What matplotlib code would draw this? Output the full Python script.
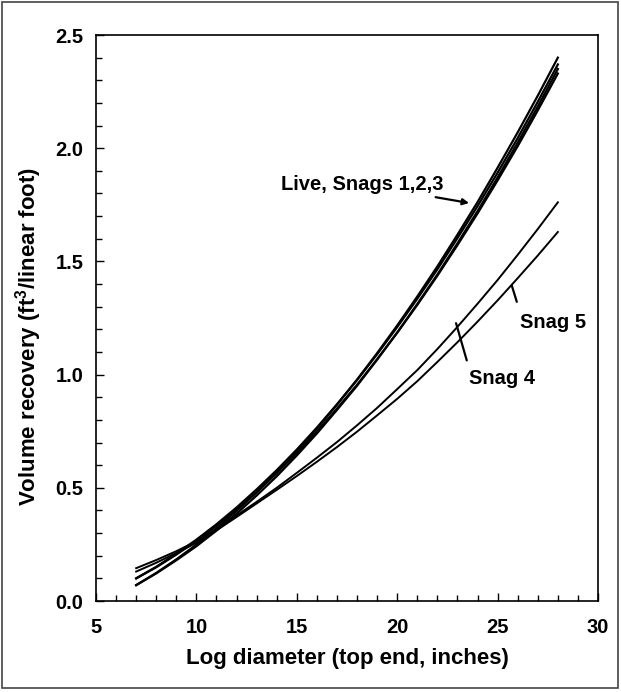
import matplotlib
matplotlib.use("Agg")
from matplotlib import pyplot as plt
from matplotlib.patches import Rectangle
from matplotlib.ticker import MultipleLocator, FormatStrFormatter

plt.rcParams["font.family"] = ["Liberation Sans", "DejaVu Sans"]
plt.rcParams["mathtext.default"] = "regular"

# log diameter (inches)
diam = list(range(7, 29))

# volume recovery (ft3 / linear foot)
live = [0.070, 0.124, 0.184, 0.249, 0.321, 0.398, 0.480, 0.568, 0.662, 0.761, 0.867,
        0.978, 1.095, 1.217, 1.345, 1.478, 1.618, 1.762, 1.914, 2.070, 2.232, 2.400]
snag1 = [0.100, 0.149, 0.205, 0.265, 0.332, 0.404, 0.481, 0.565, 0.654, 0.748, 0.850,
         0.955, 1.068, 1.185, 1.308, 1.437, 1.572, 1.712, 1.858, 2.009, 2.167, 2.330]
snag2 = [0.100, 0.151, 0.209, 0.271, 0.339, 0.413, 0.493, 0.578, 0.669, 0.766, 0.869,
         0.976, 1.090, 1.210, 1.335, 1.465, 1.603, 1.744, 1.892, 2.045, 2.205, 2.370]
snag3 = [0.070, 0.122, 0.180, 0.242, 0.311, 0.386, 0.466, 0.551, 0.643, 0.740, 0.844,
         0.951, 1.066, 1.186, 1.312, 1.442, 1.580, 1.722, 1.871, 2.025, 2.184, 2.350]
snag4 = [0.145, 0.181, 0.220, 0.264, 0.318, 0.378, 0.438, 0.500, 0.566, 0.633, 0.702,
         0.776, 0.853, 0.936, 1.020, 1.113, 1.211, 1.313, 1.418, 1.529, 1.643, 1.761]
snag5 = [0.130, 0.169, 0.212, 0.257, 0.312, 0.371, 0.431, 0.491, 0.552, 0.615, 0.680,
         0.748, 0.820, 0.893, 0.971, 1.056, 1.143, 1.234, 1.328, 1.426, 1.526, 1.630]

fig = plt.figure(figsize=(6.21, 6.92), dpi=100)
ax = fig.add_axes([0.1546, 0.1315, 0.8084, 0.8179])

for ys in [live, snag1, snag2, snag3]:
    ax.plot(diam, ys, color="black", lw=1.6)
ax.plot(diam, snag4, color="black", lw=1.4)
ax.plot(diam, snag5, color="black", lw=1.4)

ax.set_xlim(5, 30)
ax.set_ylim(0, 2.5)
ax.xaxis.set_major_locator(MultipleLocator(5))
ax.xaxis.set_minor_locator(MultipleLocator(1))
ax.yaxis.set_major_locator(MultipleLocator(0.5))
ax.yaxis.set_minor_locator(MultipleLocator(0.1))
ax.yaxis.set_major_formatter(FormatStrFormatter("%.1f"))

ax.tick_params(which="both", direction="in", top=False, right=False, width=1)
ax.tick_params(which="major", length=6)
ax.tick_params(which="minor", length=4)
ax.tick_params(axis="x", pad=12)
ax.tick_params(axis="y", pad=9)
for lab in ax.get_xticklabels() + ax.get_yticklabels():
    lab.set_fontsize(14.5)
    lab.set_fontweight("bold")
for sp in ax.spines.values():
    sp.set_linewidth(1.2)

ax.set_xlabel("Log diameter (top end, inches)", fontsize=16, fontweight="bold", labelpad=8)
ax.set_ylabel("Volume recovery (ft$^3$/linear foot)", fontsize=16, fontweight="bold")
ax.yaxis.set_label_coords(-0.104, 0.467)

# labels with leader lines
ax.annotate("Live, Snags 1,2,3", xy=(23.58, 1.758), xytext=(22.3, 1.84),
            fontsize=14.5, fontweight="bold", ha="right", va="center",
            arrowprops=dict(arrowstyle="-|>", color="black", lw=1.6, mutation_scale=9,
                            shrinkA=2, shrinkB=0))
ax.annotate("Snag 5", xy=(25.70, 1.395), xytext=(26.12, 1.232),
            fontsize=14.5, fontweight="bold", ha="left", va="center",
            arrowprops=dict(arrowstyle="-", color="black", lw=1.6, shrinkA=6, shrinkB=0,
                            relpos=(0.0, 1.0)))
ax.annotate("Snag 4", xy=(22.93, 1.227), xytext=(23.58, 0.985),
            fontsize=14.5, fontweight="bold", ha="left", va="center",
            arrowprops=dict(arrowstyle="-", color="black", lw=1.6, shrinkA=4, shrinkB=0,
                            relpos=(0.0, 1.0)))

# outer frame
fig.patches.append(Rectangle((0.0032, 0.0058), 0.992, 0.991, transform=fig.transFigure,
                             fill=False, ec="#444444", lw=1.2))

plt.savefig("out.png", dpi=100)
